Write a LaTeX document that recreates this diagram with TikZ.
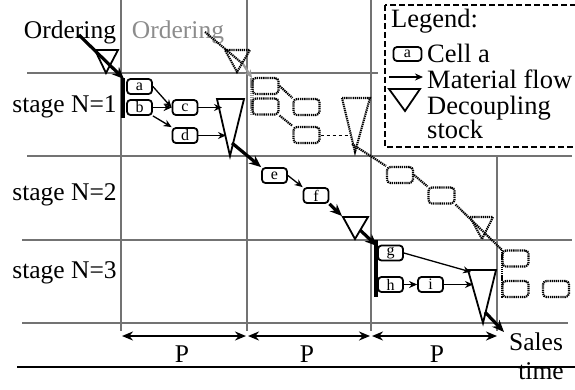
\documentclass[tikz,border=0pt]{standalone}
\usepackage{fontspec}
\setmainfont{Liberation Serif}
\usetikzlibrary{arrows.meta}
\begin{document}
\begin{tikzpicture}[x=1pt,y=-1pt,
 grid/.style={draw=black!55, line width=1.1pt},
 cell/.style={draw, line width=1.8pt, rounded corners=3.5pt, minimum width=25pt, minimum height=15pt, inner sep=0pt, font=\fontsize{16}{16}\selectfont},
 ghost/.style={draw, line width=2.1pt, rounded corners=3.5pt, minimum width=26pt, minimum height=16pt, inner sep=0pt, dash pattern=on 1.3pt off 0.8pt},
 ghostline/.style={line width=2.2pt, dash pattern=on 1.3pt off 0.8pt},
 flow/.style={-{Stealth[length=8pt,width=7pt]}, line width=1.3pt},
 bigflow/.style={-{Stealth[length=12pt,width=10pt]}, line width=3.2pt},
 parr/.style={{Stealth[length=11pt,width=9pt]}-{Stealth[length=11pt,width=9pt]}, line width=2.8pt},
 tri/.style={draw, line width=1.8pt, line join=miter},
 gtri/.style={draw, line width=2.1pt, dash pattern=on 1.3pt off 0.8pt},
 lbl/.style={font=\fontsize{25.5}{28}\selectfont, inner sep=0pt, anchor=base},
 leg/.style={font=\fontsize{26.5}{28}\selectfont, inner sep=0pt, anchor=base west},
 ]
\useasboundingbox (0,0) rectangle (575,389);
% grid
\draw[grid] (27,73) -- (378,73);
\draw[grid] (27,156) -- (572,156);
\draw[grid] (22,240) -- (572,240);
\draw[grid] (22,323) -- (568,323);
\draw[grid] (121,0) -- (121,331);
\draw[grid] (247,0) -- (247,331);
\draw[grid] (371,0) -- (371,331);
\draw[grid] (497,156) -- (497,331);
\draw[line width=2pt] (17,367) -- (575,367);

% labels
\node[lbl] (ord) at (70,38) {Ordering};
\node[lbl, text=black!45] (ord2) at (178,38) {Ordering};
\node[lbl] (s1) at (64.5,112) {stage N=1};
\node[lbl] (s2) at (64.5,200) {stage N=2};
\node[lbl] (s3) at (64.5,278) {stage N=3};
\node[lbl] (sales) at (536,350) {Sales};
\node[lbl] (time) at (541,379) {time};
\node[lbl] (p1) at (182,362) {P};
\node[lbl] (p2) at (307,362) {P};
\node[lbl] (p3) at (437,362) {P};

% P arrows
\coordinate (t0) at (122,336);
\coordinate (t1) at (246,336);
\coordinate (t1b) at (248,336);
\coordinate (t2) at (370,336);
\coordinate (t2b) at (372,336);
\coordinate (t3) at (497,336);
\draw[parr] (t0) -- (t1);
\draw[parr] (t1b) -- (t2);
\draw[parr] (t2b) -- (t3);

% ---- current cycle ----
\draw[tri] (95,50) -- (118,50) -- (106,73) -- cycle;
\coordinate (o1) at (79,35);
\coordinate (bar1t) at (124,79);
\coordinate (bar1b) at (123,118);
\draw[bigflow] (o1) -- (bar1t);
\draw[line width=4.5pt] (123,78) -- (bar1b);

\node[cell] (a) at (139.5,86.5) {a};
\node[cell] (b) at (139.5,107.5) {b};
\node[cell] (c) at (185,107.5) {c};
\node[cell] (d) at (185,135.5) {d};
\draw[tri] (217,99) -- (244,99) -- (230,156) -- cycle;
\coordinate (T2c) at (222,107.5);
\coordinate (T2d) at (226,135.5);
\coordinate (T2o) at (232,143);
\draw[flow] (a.east) -- (c.west);
\draw[flow] (b.east) -- (c.west);
\draw[flow] (b.south east) -- (d.north west);
\draw[flow] (c.east) -- (T2c);
\draw[flow] (d.east) -- (T2d);

\node[cell] (e) at (274.5,175.5) {e};
\node[cell] (f) at (316,195.5) {f};
\draw[bigflow] (T2o) -- (e.north west);
\draw[flow] (e.east) -- (f.north west);
\draw[tri] (343,217) -- (368,217) -- (355,239) -- cycle;
\coordinate (T3i) at (342,216);
\coordinate (T3o) at (360,230);
\draw[bigflow] (f.south east) -- (T3i);
\coordinate (bar2t) at (377,246);
\coordinate (bar2b) at (376,297);
\draw[bigflow] (T3o) -- (bar2t);
\draw[line width=4.5pt] (376,240) -- (bar2b);

\node[cell] (g) at (390.5,253) {g};
\node[cell] (h) at (390.5,284.5) {h};
\node[cell] (i) at (430.5,284.5) {i};
\draw[tri] (468,270) -- (496,270) -- (483,323) -- cycle;
\coordinate (T4g) at (471,272);
\coordinate (T4i) at (473,284.5);
\coordinate (T4o) at (485,312);
\coordinate (out) at (504,332);
\draw[flow] (g.east) -- (T4g);
\draw[flow] (h.east) -- (i.west);
\draw[flow] (i.east) -- (T4i);
\draw[bigflow] (T4o) -- (out);

% ---- next cycle (ghost) ----
\coordinate (go1) at (205,32);
\coordinate (go2) at (243,64);
\coordinate (gbart) at (252,78);
\draw[ghostline] (go1) -- (go2);
\draw[gtri] (225,50) -- (250,50) -- (237,72) -- cycle;
\draw[black!40, line width=2.2pt, -{Stealth[length=8pt,width=7pt]}] (go2) -- (gbart);
\draw[black!40, line width=3.5pt, dash pattern=on 1.5pt off 0.6pt] (252,78) -- (252,114);

\node[ghost] (a2) at (265.5,86) {};
\node[ghost] (b2) at (265.5,106.5) {};
\node[ghost] (c2) at (306.5,107) {};
\node[ghost] (d2) at (306.5,135) {};
\draw[ghostline] (a2.east) -- (c2.north west);
\draw[ghostline] (b2.south east) -- (d2.north west);
\draw[gtri] (342,98) -- (370,98) -- (355,152) -- cycle;
\coordinate (G2d) at (349,135);
\coordinate (G2o) at (352,144);
\draw[dashed, line width=0.8pt] (d2.east) -- (G2d);

\node[ghost] (e2) at (400,175) {};
\node[ghost] (f2) at (441.5,195.5) {};
\draw[ghostline] (G2o) -- (e2.north west);
\draw[ghostline] (e2.east) -- (f2.north west);
\draw[gtri] (470,217) -- (493,217) -- (482,239) -- cycle;
\coordinate (gbar2t) at (502,250);
\draw[ghostline] (f2.south east) -- (gbar2t);

\node[ghost] (g2) at (515.5,258.5) {};
\node[ghost] (h2) at (515.5,289) {};
\node[ghost] (i2) at (556,289) {};
\draw[ghostline] (gbar2t) -- (502,298);

% ---- legend ----
\draw[line width=2pt, dash pattern=on 6pt off 3pt] (385,5) rectangle (577,147);
\node[leg] (lg) at (391,27) {Legend:};
\node[cell, minimum width=28pt, minimum height=14pt] (lc) at (407.5,54) {a};
\node[leg] (lct) at (427,62) {Cell a};
\coordinate (la1) at (389,77);
\coordinate (la2) at (423,77);
\draw[flow] (la1) -- (la2);
\node[leg] (lft) at (427,88) {Material flow};
\draw[tri] (389,89) -- (420,89) -- (405,111) -- cycle;
\node[leg] (ldt) at (427,114) {Decoupling};
\node[leg] (lst) at (427,138) {stock};
\end{tikzpicture}
\end{document}
